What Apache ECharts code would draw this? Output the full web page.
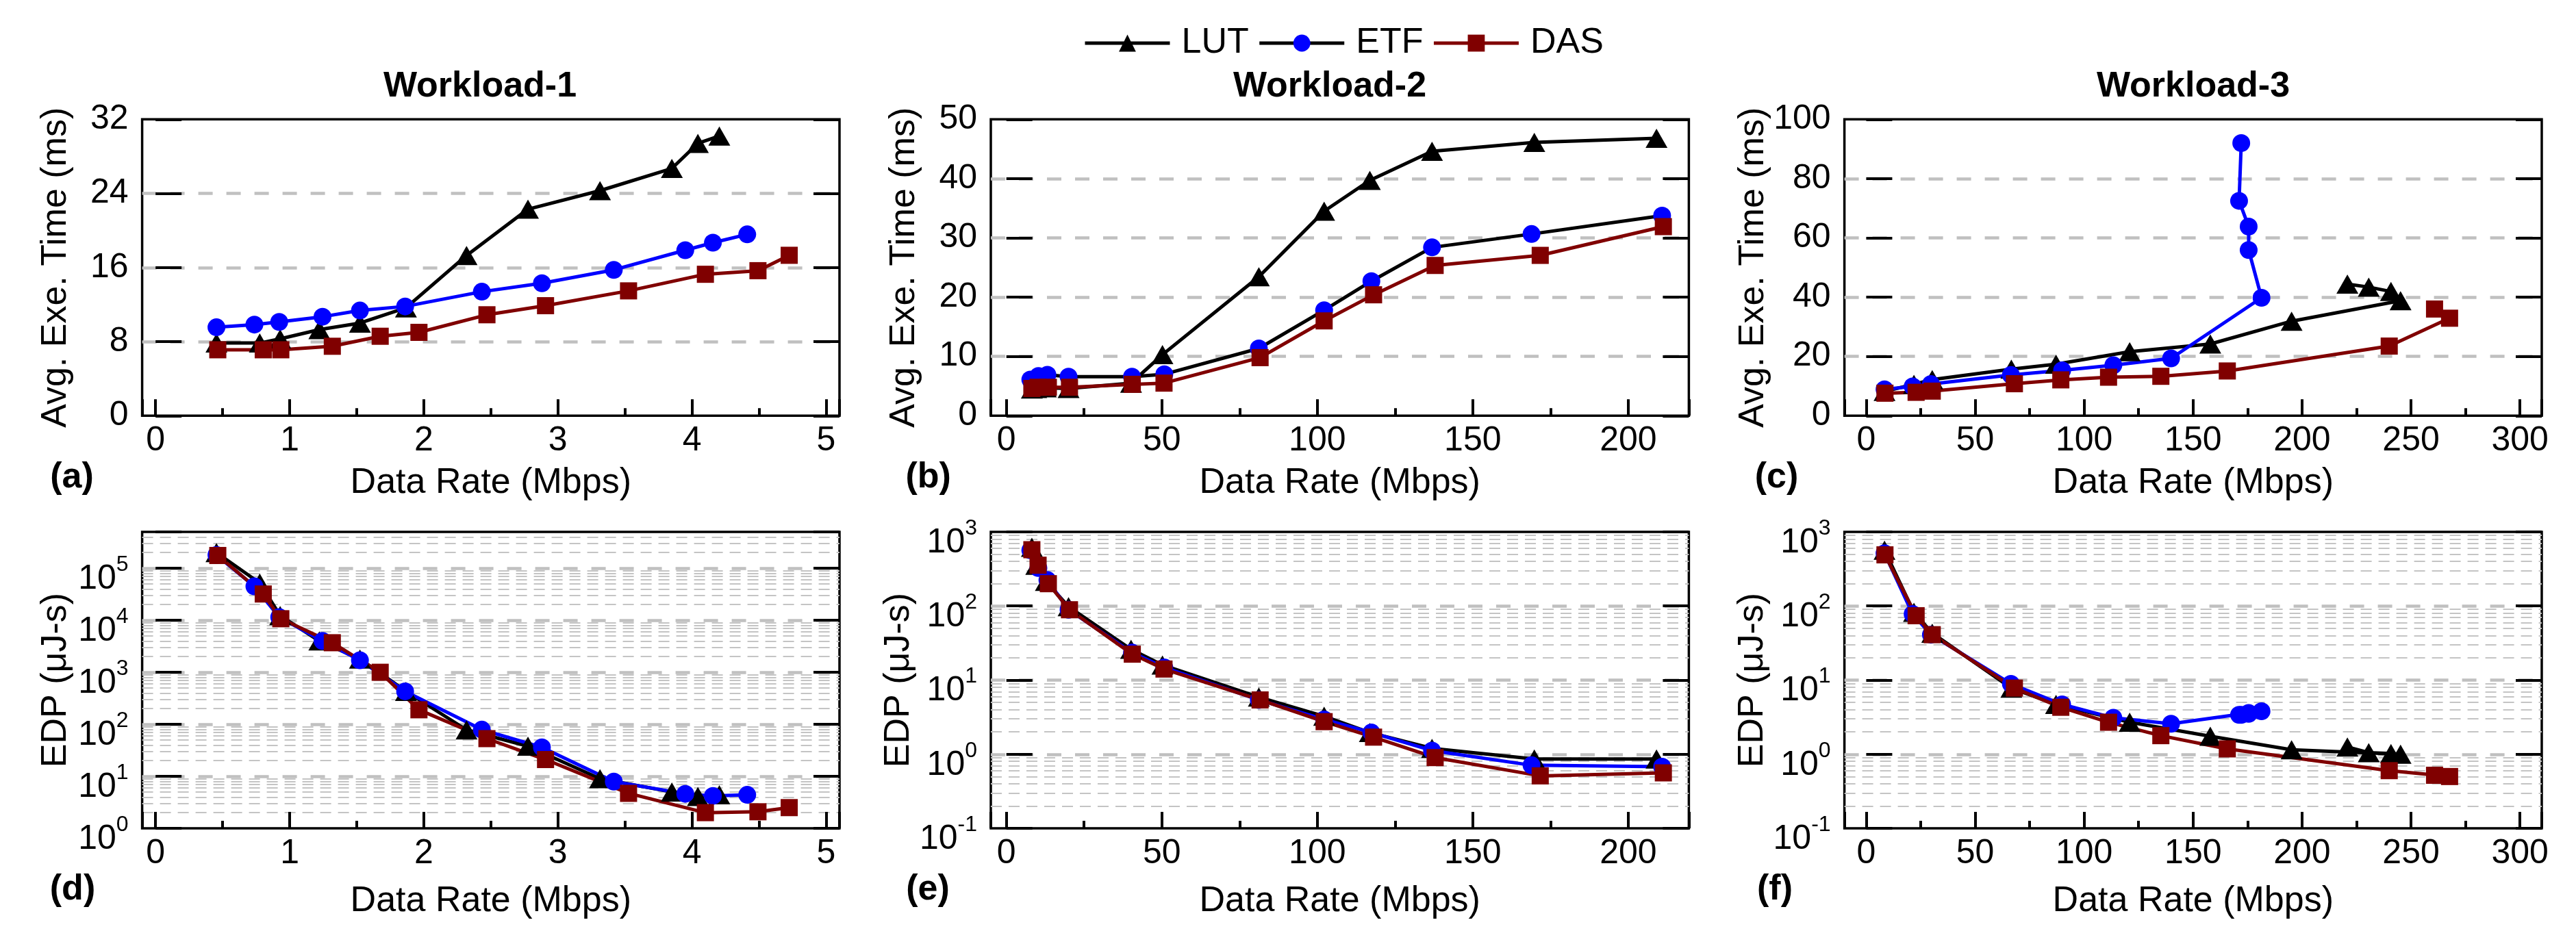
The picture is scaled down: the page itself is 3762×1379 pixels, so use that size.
<!DOCTYPE html>
<html>
<head>
<meta charset="utf-8">
<script src="https://cdn.jsdelivr.net/npm/echarts@6/dist/echarts.min.js"></script>
<style>
html,body{margin:0;padding:0;background:#ffffff;}
#chart{width:3762px;height:1379px;}
</style>
</head>
<body>
<div id="chart"></div>
<script>
// ---------------- DATA ----------------
const seriesNames = ['LUT', 'ETF', 'DAS'];
const panelTitles = ['Workload-1', 'Workload-2', 'Workload-3'];
const panelLabels = ['(a)', '(b)', '(c)', '(d)', '(e)', '(f)'];
const xAxisTitle = 'Data Rate (Mbps)';
const timeAxisTitle = 'Avg. Exe. Time (ms)';
const edpAxisTitle = 'EDP (\u03bcJ-s)';

const xTicksW1 = [0, 1, 2, 3, 4, 5];
const xTicksW2 = [0, 50, 100, 150, 200];
const xTicksW3 = [0, 50, 100, 150, 200, 250, 300];

// Workload-1
const w1LutX    = [0.454, 0.777, 0.929, 1.221, 1.524, 1.867, 2.319, 2.777, 3.314, 3.85, 4.044, 4.204];
const w1LutTime = [7.85, 7.85, 8.3, 9.3, 10.0, 11.65, 17.3, 22.3, 24.3, 26.7, 29.4, 30.2];
const w1LutEdp  = [200000, 52000, 12300, 4000, 1800, 430, 78, 38, 9.0, 5.0, 4.1, 4.4];
const w1EtfX    = [0.454, 0.737, 0.922, 1.245, 1.524, 1.861, 2.433, 2.881, 3.417, 3.95, 4.156, 4.412];
const w1EtfTime = [9.55, 9.84, 10.13, 10.69, 11.36, 11.8, 13.39, 14.3, 15.75, 17.87, 18.68, 19.58];
const w1EtfEdp  = [180000, 45000, 11500, 4000, 1700, 430, 79, 36, 7.9, 4.6, 4.2, 4.4];
const w1DasX    = [0.464, 0.803, 0.934, 1.318, 1.675, 1.964, 2.471, 2.908, 3.527, 4.1, 4.492, 4.725];
const w1DasTime = [7.12, 7.12, 7.12, 7.5, 8.58, 9.0, 10.9, 11.88, 13.48, 15.27, 15.66, 17.32];
const w1DasEdp  = [176000, 32000, 10700, 3700, 1000, 190, 53, 21, 4.7, 2.0, 2.08, 2.5];

// Workload-2
const w2LutX    = [8.2, 9.6, 12.7, 20.0, 40.1, 50.2, 81.2, 102.2, 116.9, 136.9, 169.8, 209.1];
const w2LutTime = [4.5, 4.6, 4.7, 4.6, 5.5, 10.3, 23.45, 34.5, 39.7, 44.6, 46.1, 46.8];
const w2LutEdp  = [620, 355, 215, 98, 26, 16, 5.9, 3.25, 1.96, 1.2, 0.86, 0.86];
const w2EtfX    = [7.7, 10.3, 13.2, 20.0, 40.4, 50.8, 81.2, 102.2, 117.4, 136.9, 168.9, 210.9];
const w2EtfTime = [6.1, 6.7, 6.9, 6.6, 6.6, 7.0, 11.35, 17.8, 22.7, 28.4, 30.65, 33.75];
const w2EtfEdp  = [565, 325, 224, 89, 23.5, 14.8, 5.4, 2.95, 1.96, 1.12, 0.71, 0.68];
const w2DasX    = [8.2, 10.2, 13.5, 20.3, 40.5, 50.7, 81.6, 102.2, 118.1, 137.9, 171.7, 211.3];
const w2DasTime = [4.6, 4.8, 4.8, 4.8, 5.3, 5.5, 9.8, 16.0, 20.4, 25.35, 27.05, 31.9];
const w2DasEdp  = [575, 355, 200, 89, 22.4, 14.1, 5.4, 2.75, 1.7, 0.9, 0.51, 0.56];

// Workload-3
const w3LutX    = [8.4, 21.9, 30.3, 66.6, 87.1, 120.9, 157.9, 195.2, 245.2, 240.8, 230.6, 220.8];
const w3LutTime = [8.2, 10.6, 12.2, 15.7, 17.4, 21.6, 24.2, 31.9, 38.8, 41.9, 43.4, 44.4];
const w3LutEdp  = [565, 82, 43, 7.8, 4.7, 2.7, 1.75, 1.15, 1.0, 1.02, 1.05, 1.25];
const w3EtfX    = [8.4, 21.3, 29.7, 66.4, 89.9, 113.4, 139.9, 181.4, 175.5, 175.5, 171.1, 172.1];
const w3EtfTime = [8.9, 9.9, 10.7, 13.75, 15.3, 17.05, 19.35, 39.8, 55.9, 63.8, 72.5, 92.0];
const w3EtfEdp  = [515, 78, 41, 8.9, 4.7, 3.1, 2.58, 3.8, 3.6, 3.5, 3.4, 3.4];
const w3DasX    = [8.6, 22.9, 30.3, 68.0, 89.3, 111.2, 135.2, 165.7, 240.0, 267.7, 260.8];
const w3DasTime = [7.6, 7.9, 8.3, 10.8, 12.1, 13.0, 13.3, 15.1, 23.5, 32.9, 36.0];
const w3DasEdp  = [490, 74, 41, 7.8, 4.3, 2.7, 1.78, 1.18, 0.6, 0.5, 0.52];

// ---------------- STYLE ----------------
const FONT = 'Liberation Sans';
const C_LUT = '#000000', C_ETF = '#0000ff', C_DAS = '#800000';
const LINE_W = 5;

const panels = [
  { left: 207.6, top: 174.3, width: 1018.4, xMin: -0.1, xMax: 5.1, xTicks: xTicksW1, log: false, yMin: 0, yMax: 32, yInterval: 8,
    yName: timeAxisTitle, xNameGap: 72, etfLine: C_ETF,
    data: [[w1LutX, w1LutTime], [w1EtfX, w1EtfTime], [w1DasX, w1DasTime]] },
  { left: 1447, top: 174.3, width: 1019.4, xMin: -5, xMax: 219.5, xTicks: xTicksW2, log: false, yMin: 0, yMax: 50, yInterval: 10,
    yName: timeAxisTitle, xNameGap: 72, etfLine: C_LUT,
    data: [[w2LutX, w2LutTime], [w2EtfX, w2EtfTime], [w2DasX, w2DasTime]] },
  { left: 2693.6, top: 174.3, width: 1018.4, xMin: -10, xMax: 310, xTicks: xTicksW3, log: false, yMin: 0, yMax: 100, yInterval: 20,
    yName: timeAxisTitle, xNameGap: 72, etfLine: C_ETF,
    data: [[w3LutX, w3LutTime], [w3EtfX, w3EtfTime], [w3DasX, w3DasTime]] },
  { left: 207.6, top: 777, width: 1018.4, xMin: -0.1, xMax: 5.1, xTicks: xTicksW1, log: true, yMin: 1, yMax: 500000,
    yName: edpAxisTitle, xNameGap: 81, etfLine: C_ETF,
    data: [[w1LutX, w1LutEdp], [w1EtfX, w1EtfEdp], [w1DasX, w1DasEdp]] },
  { left: 1447, top: 777, width: 1019.4, xMin: -5, xMax: 219.5, xTicks: xTicksW2, log: true, yMin: 0.1, yMax: 1000,
    yName: edpAxisTitle, xNameGap: 81, etfLine: C_ETF,
    data: [[w2LutX, w2LutEdp], [w2EtfX, w2EtfEdp], [w2DasX, w2DasEdp]] },
  { left: 2693.6, top: 777, width: 1018.4, xMin: -10, xMax: 310, xTicks: xTicksW3, log: true, yMin: 0.1, yMax: 1000,
    yName: edpAxisTitle, xNameGap: 81, etfLine: C_ETF,
    data: [[w3LutX, w3LutEdp], [w3EtfX, w3EtfEdp], [w3DasX, w3DasEdp]] }
];
const PLOT_H = 433;

const titleCenters = [701, 1942, 3203];
const labelCenters = [[105, 698], [1355.7, 698], [2594.5, 698], [106, 1300], [1355, 1300], [2592, 1300]];

// minor grid values for log panels (multiples 2..9 of each decade inside the axis range)
function minorLogValues(min, max) {
  const out = [];
  for (let e = Math.floor(Math.log10(min)); e <= Math.ceil(Math.log10(max)); e++) {
    for (let m = 2; m <= 9; m++) {
      const v = m * Math.pow(10, e);
      if (v > min && v < max) out.push(v);
    }
  }
  return out;
}

const grids = [], xAxes = [], yAxes = [], series = [];

panels.forEach((p, gi) => {
  grids.push({
    left: p.left, top: p.top, width: p.width, height: PLOT_H,
    show: true, borderColor: '#000', borderWidth: 3.5, backgroundColor: 'transparent',
    containLabel: false, outerBoundsMode: 'none'
  });

  const ticks = p.xTicks;
  xAxes.push({
    gridIndex: gi, type: 'value', min: p.xMin, max: p.xMax, position: 'bottom', z: 1,
    axisLine: { show: false },
    axisTick: { show: true, inside: true, length: 24, lineStyle: { color: '#000', width: 4 } },
    minorTick: { show: true, splitNumber: 2, length: 11, lineStyle: { color: '#000', width: 4 } },
    splitLine: { show: false }, minorSplitLine: { show: false },
    axisLabel: {
      show: true, margin: 12, fontSize: 50, color: '#000', fontFamily: FONT,
      formatter: v => (ticks.indexOf(Math.round(v * 1000) / 1000) >= 0 ? String(Math.round(v * 1000) / 1000) : '')
    },
    name: xAxisTitle, nameLocation: 'middle', nameGap: p.xNameGap,
    nameTextStyle: { fontSize: 52, color: '#000', fontFamily: FONT }
  });

  const yBase = p.log
    ? { type: 'log', logBase: 10, min: p.yMin, max: p.yMax }
    : { type: 'value', min: p.yMin, max: p.yMax, interval: p.yInterval };

  const labelCfg = p.log
    ? {
        show: true, margin: 20, padding: [20, 0, 0, 0], color: '#000', fontFamily: FONT,
        formatter: v => {
          const l = Math.log10(v); const e = Math.round(l);
          if (Math.abs(l - e) > 1e-6) return '';
          return '{b|10}{s|' + e + '}';
        },
        rich: {
          b: { fontSize: 50, lineHeight: 62, verticalAlign: 'bottom', color: '#000', fontFamily: FONT },
          s: { fontSize: 32, lineHeight: 32, verticalAlign: 'top', color: '#000', fontFamily: FONT }
        }
      }
    : { show: true, margin: 20, padding: [10, 0, 0, 0], fontSize: 50, color: '#000', fontFamily: FONT };

  // main left axis: labels + ticks
  yAxes.push(Object.assign({}, yBase, {
    gridIndex: gi, position: 'left', z: 1,
    axisLine: { show: false },
    axisTick: { show: true, inside: true, length: 38, lineStyle: { color: '#000', width: 4 } },
    splitLine: { show: false },
    axisLabel: labelCfg,
    name: p.yName, nameLocation: 'middle', nameGap: 100, nameRotate: 90,
    nameTextStyle: { fontSize: 52, color: '#000', fontFamily: FONT }
  }));
  // right axis: ticks only
  yAxes.push(Object.assign({}, yBase, {
    gridIndex: gi, position: 'right', z: 1,
    axisLine: { show: false },
    axisTick: { show: true, inside: true, length: 38, lineStyle: { color: '#000', width: 4 } },
    splitLine: { show: false },
    axisLabel: { show: false }
  }));
  // gridline axis (under the ticks)
  yAxes.push(Object.assign({}, yBase, {
    gridIndex: gi, position: 'left', z: 0,
    axisLine: { show: false }, axisTick: { show: false }, axisLabel: { show: false },
    splitLine: { show: true, showMinLine: false, showMaxLine: false,
                 lineStyle: { color: '#c0c0c0', width: 4.5, type: [21, 20] } }
  }));

  if (p.log) {
    series.push({
      type: 'line', name: 'minor-grid-' + gi, xAxisIndex: gi, yAxisIndex: gi * 3, data: [],
      silent: true, z: 1,
      markLine: {
        silent: true, z: 1, symbol: ['none', 'none'], label: { show: false }, animation: false,
        lineStyle: { color: '#c4c4c4', width: 2.2, type: [16, 10] },
        emphasis: { disabled: true },
        data: minorLogValues(p.yMin, p.yMax).map(v => ({ yAxis: v }))
      }
    });
  }

  const styles = [
    { name: 'LUT', line: C_LUT, color: C_LUT, symbol: 'triangle', size: [32, 28] },
    { name: 'ETF', line: p.etfLine, color: C_ETF, symbol: 'circle', size: 26 },
    { name: 'DAS', line: C_DAS, color: C_DAS, symbol: 'rect', size: 25 }
  ];
  styles.forEach((s, si) => {
    const xs = p.data[si][0], ys = p.data[si][1];
    series.push({
      type: 'line', name: s.name, xAxisIndex: gi, yAxisIndex: gi * 3, z: 2,
      data: xs.map((x, i) => [x, ys[i]]),
      symbol: s.symbol, symbolSize: s.size, showSymbol: true, showAllSymbol: true,
      lineStyle: { color: s.line, width: LINE_W },
      itemStyle: { color: s.color },
      emphasis: { disabled: true }
    });
  });
});

const graphics = [];
panelTitles.forEach((t, i) => {
  graphics.push({
    type: 'text', x: titleCenters[i], y: 127, silent: true,
    style: { text: t, fontSize: 52, fontWeight: 'bold', fontFamily: FONT, fill: '#000', align: 'center', verticalAlign: 'middle' }
  });
});
panelLabels.forEach((t, i) => {
  graphics.push({
    type: 'text', x: labelCenters[i][0], y: labelCenters[i][1], silent: true,
    style: { text: t, fontSize: 52, fontWeight: 'bold', fontFamily: FONT, fill: '#000', align: 'center', verticalAlign: 'middle' }
  });
});

const option = {
  animation: false,
  backgroundColor: '#ffffff',
  textStyle: { fontFamily: FONT, color: '#000' },
  legend: {
    left: 1582, top: 37, padding: 0, orient: 'horizontal',
    itemWidth: 124, itemHeight: 31, itemGap: 13, selectedMode: false,
    textStyle: { fontSize: 52, color: '#000', fontFamily: FONT, padding: [0, 0, 0, 12] },
    data: [
      { name: 'LUT', itemStyle: { color: C_LUT }, lineStyle: { color: C_LUT, width: LINE_W } },
      { name: 'ETF', itemStyle: { color: C_ETF }, lineStyle: { color: C_LUT, width: LINE_W } },
      { name: 'DAS', itemStyle: { color: C_DAS }, lineStyle: { color: C_DAS, width: LINE_W } }
    ]
  },
  grid: grids,
  xAxis: xAxes,
  yAxis: yAxes,
  series: series,
  graphic: graphics
};

const chart = echarts.init(document.getElementById('chart'), null, { renderer: 'canvas' });
chart.setOption(option);
</script>
</body>
</html>
